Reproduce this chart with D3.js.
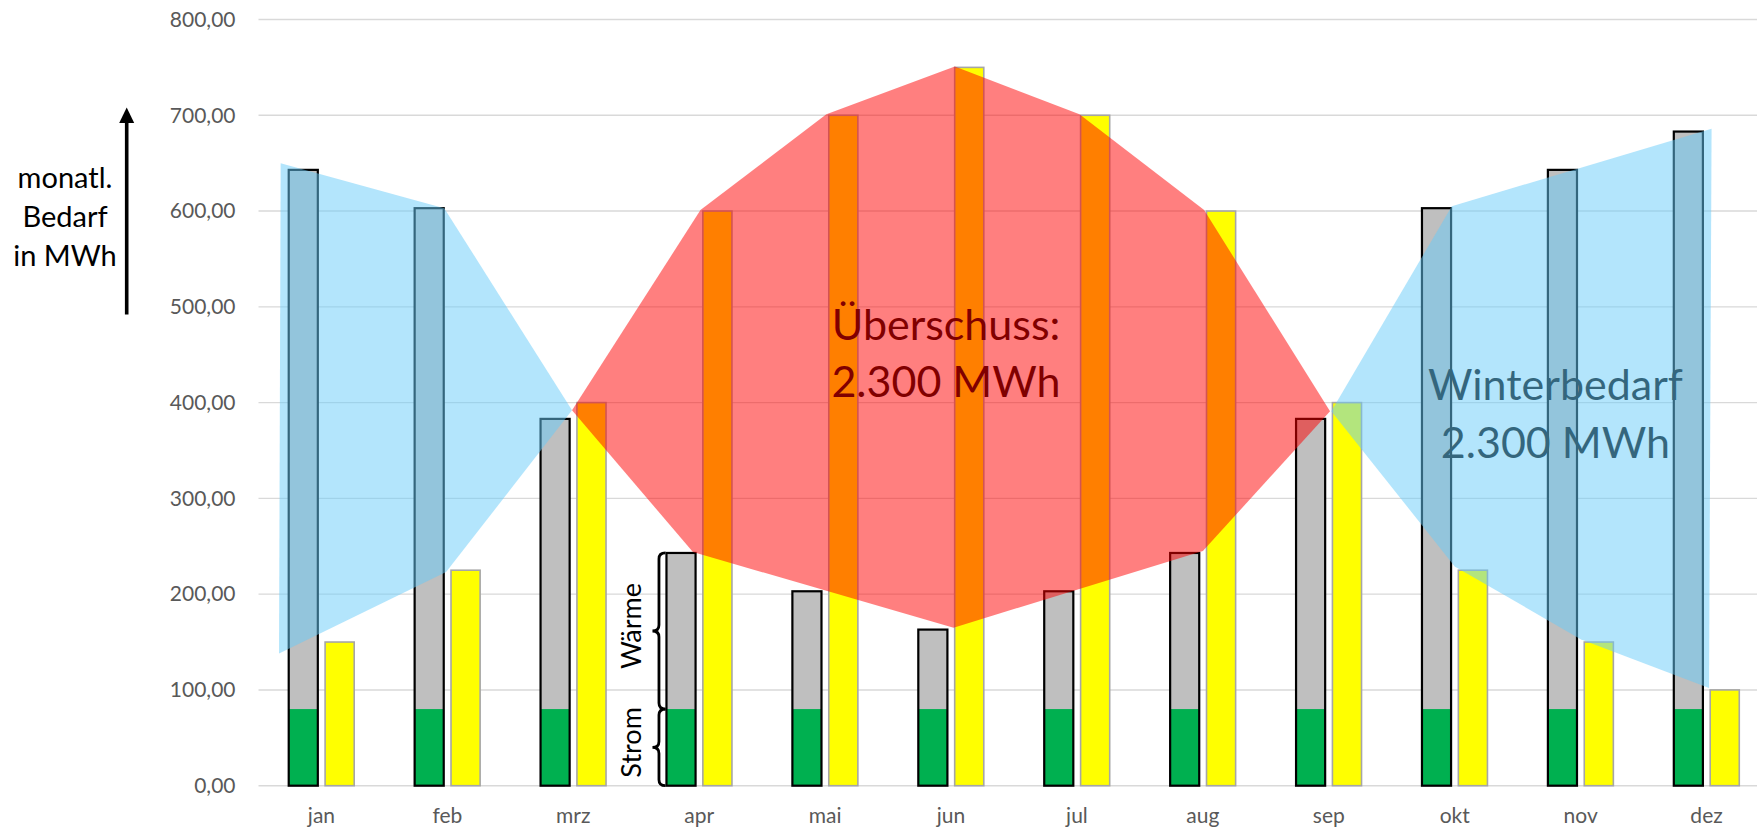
<!DOCTYPE html>
<html>
<head>
<meta charset="utf-8">
<script src="https://cdn.jsdelivr.net/npm/d3@7"></script>
<style>
  html, body { margin: 0; padding: 0; background: #fff; }
  svg { display: block; font-family: Lato, "Open Sans", sans-serif; }
</style>
</head>
<body>
<svg id="chart" width="1757" height="832"></svg>
<script>
// ---------------- data ----------------
const months = ["jan", "feb", "mrz", "apr", "mai", "jun", "jul", "aug", "sep", "okt", "nov", "dez"];
const strom  = [80, 80, 80, 80, 80, 80, 80, 80, 80, 80, 80, 80];
const waerme = [563, 523, 303, 163, 123, 83, 123, 163, 303, 523, 563, 603];
const pv     = [150, 225, 400, 600, 700, 750, 700, 600, 400, 225, 150, 100];
const yTicks = [0, 100, 200, 300, 400, 500, 600, 700, 800];

// hand-drawn overlay shapes: [month index, value]
const winterLeft  = [[-0.324, 650], [0.975, 603], [1.99, 392], [0.99, 223], [-0.337, 138]];
const surplus     = [[1.99, 392], [3.01, 601], [4.01, 701], [5.03, 751], [6.02, 701], [7.01, 601],
                     [8.01, 391], [7.0, 245], [5.02, 165], [2.95, 244]];
const winterRight = [[8.02, 391], [8.977, 605], [11.04, 686], [11.02, 102], [10.0, 153], [9.0, 229]];

const surplusText = ["Überschuss:", "2.300 MWh"];
const winterText  = ["Winterbedarf", "2.300 MWh"];
const yTitle      = ["monatl.", "Bedarf", "in MWh"];

// ---------------- layout ----------------
const svg = d3.select("#chart");
const W = 1757, H = 832;
const plotLeft = 258.5, plotRight = 1769.5, plotTop = 19.5, plotBottom = 785.7;

const x0 = d3.scaleBand().domain(months).range([plotLeft, plotRight]).paddingInner(0.48).paddingOuter(0.24);
const x1 = d3.scaleBand().domain(["bedarf", "pv"]).range([0, x0.bandwidth()]).paddingInner(0.2);
const y  = d3.scaleLinear().domain([0, 800]).range([plotBottom, plotTop]);
const xi = d3.scaleLinear().domain([0, 11])
  .range([x0(months[0]) + x0.bandwidth() / 2, x0(months[11]) + x0.bandwidth() / 2]);

const fmt = d3.formatLocale({decimal: ",", thousands: ".", grouping: [3], currency: ["", "€"]}).format(".2f");

// gridlines
svg.append("g").selectAll("line").data(yTicks).join("line")
  .attr("x1", plotLeft).attr("x2", W)
  .attr("y1", d => y(d)).attr("y2", d => y(d))
  .attr("stroke", "#d9d9d9").attr("stroke-width", 1.4);

// y axis labels
const yAxis = svg.append("g").attr("transform", `translate(${plotLeft},0)`)
  .call(d3.axisLeft(y).tickValues(yTicks).tickSize(0).tickPadding(23).tickFormat(fmt));
yAxis.select(".domain").remove();
yAxis.selectAll("text").attr("fill", "#595959").style("font-size", "21px").style("font-family", "Lato, sans-serif");

// x axis labels
const xAxis = svg.append("g").attr("transform", `translate(0,${plotBottom})`)
  .call(d3.axisBottom(x0).tickSize(0).tickPadding(22));
xAxis.select(".domain").remove();
xAxis.selectAll("text").attr("fill", "#595959").style("font-size", "21px").style("font-family", "Lato, sans-serif");

// bars
const rows = months.map((m, i) => ({m, strom: strom[i], waerme: waerme[i], pv: pv[i]}));
const g = svg.append("g");
const bw = x1.bandwidth();

g.selectAll(".tot").data(rows).join("rect").attr("class", "tot")
  .attr("x", d => x0(d.m) + x1("bedarf")).attr("width", bw)
  .attr("y", d => y(d.strom + d.waerme)).attr("height", d => y(0) - y(d.strom + d.waerme))
  .attr("fill", "#bfbfbf");
g.selectAll(".str").data(rows).join("rect").attr("class", "str")
  .attr("x", d => x0(d.m) + x1("bedarf")).attr("width", bw)
  .attr("y", d => y(d.strom)).attr("height", d => y(0) - y(d.strom))
  .attr("fill", "#00b050");
g.selectAll(".out").data(rows).join("rect").attr("class", "out")
  .attr("x", d => x0(d.m) + x1("bedarf")).attr("width", bw)
  .attr("y", d => y(d.strom + d.waerme)).attr("height", d => y(0) - y(d.strom + d.waerme))
  .attr("fill", "none").attr("stroke", "#000").attr("stroke-width", 2.2);
g.selectAll(".pv").data(rows).join("rect").attr("class", "pv")
  .attr("x", d => x0(d.m) + x1("pv")).attr("width", bw)
  .attr("y", d => y(d.pv)).attr("height", d => y(0) - y(d.pv))
  .attr("fill", "#ffff00").attr("stroke", "#a6a6a6").attr("stroke-width", 1.6);

// braces next to april bar
function brace(xTip, yTop, yBot, w) {
  const xe = xTip + w, xb = xTip + w * 0.5, ym = (yTop + yBot) / 2, r = Math.min(6, (yBot - yTop) / 6);
  return `M${xe},${yTop} Q${xb},${yTop} ${xb},${yTop + r} L${xb},${ym - r} Q${xb},${ym} ${xTip},${ym}` +
         ` Q${xb},${ym} ${xb},${ym + r} L${xb},${yBot - r} Q${xb},${yBot} ${xe},${yBot}`;
}
const aprI = 3;
const braceRight = x0(months[aprI]) + x1("bedarf") - 1;
const braces = [
  {label: "Wärme", lo: strom[aprI], hi: strom[aprI] + waerme[aprI]},
  {label: "Strom", lo: 0, hi: strom[aprI]}
];
braces.forEach(b => {
  svg.append("path").attr("d", brace(braceRight - 13, y(b.hi), y(b.lo), 13))
    .attr("fill", "none").attr("stroke", "#000").attr("stroke-width", 2.8);
  const cy = (y(b.hi) + y(b.lo)) / 2 - 5;
  svg.append("text").attr("transform", `translate(${braceRight - 24},${cy}) rotate(-90)`)
    .attr("text-anchor", "middle").style("font-size", "27px").attr("fill", "#000").text(b.label);
});

// annotation text (black, tinted by overlays drawn on top)
svg.append("g").selectAll("text").data(surplusText).join("text")
  .attr("x", xi(4.96)).attr("y", (d, i) => y(465 - i * 59))
  .attr("text-anchor", "middle").style("font-size", "43px").attr("fill", "#000").text(d => d);
svg.append("g").selectAll("text").data(winterText).join("text")
  .attr("x", xi(9.8)).attr("y", (d, i) => y(402.6 - i * 60.5))
  .attr("text-anchor", "middle").style("font-size", "43px").attr("fill", "#000").text(d => d);

// overlays
const poly = pts => "M" + pts.map(p => `${xi(p[0])},${y(p[1])}`).join("L") + "Z";
svg.append("path").attr("d", poly(winterLeft)).attr("fill", "rgb(103,203,249)").attr("fill-opacity", 0.5);
svg.append("path").attr("d", poly(winterRight)).attr("fill", "rgb(103,203,249)").attr("fill-opacity", 0.5);
svg.append("path").attr("d", poly(surplus)).attr("fill", "rgb(255,0,0)").attr("fill-opacity", 0.5);

// y title + arrow
svg.append("g").selectAll("text").data(yTitle).join("text")
  .attr("x", 65).attr("y", (d, i) => y(624 - i * 40.5))
  .attr("text-anchor", "middle").style("font-size", "29px").attr("fill", "#000").text(d => d);
const arrowX = 126.7;
svg.append("line").attr("x1", arrowX).attr("x2", arrowX).attr("y1", y(492)).attr("y2", y(693))
  .attr("stroke", "#000").attr("stroke-width", 3.6);
svg.append("path")
  .attr("d", `M${arrowX - 7.5},${y(692)} L${arrowX},${y(708)} L${arrowX + 7.5},${y(692)} Z`)
  .attr("fill", "#000");
</script>
</body>
</html>
